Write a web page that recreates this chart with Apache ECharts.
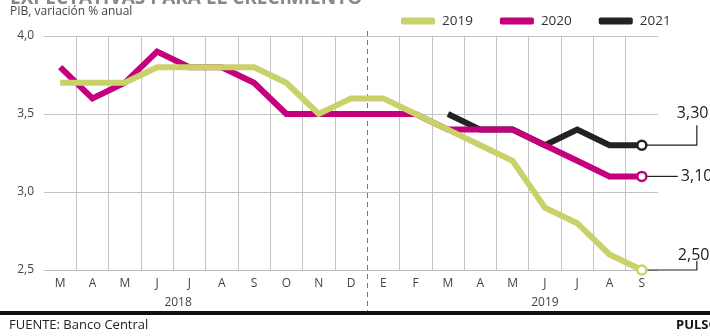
<!DOCTYPE html>
<html>
<head>
<meta charset="utf-8">
<script src="https://cdn.jsdelivr.net/npm/echarts@6/dist/echarts.min.js"></script>
<style>
  html, body { margin: 0; padding: 0; background: #fff; }
  #chart { width: 710px; height: 336px; }
</style>
</head>
<body>
<div id="chart"></div>
<script>
  // months Mar 2018 .. Sep 2019
  const categories = ['M', 'A', 'M', 'J', 'J', 'A', 'S', 'O', 'N', 'D', 'E', 'F', 'M', 'A', 'M', 'J', 'J', 'A', 'S'];
  const yearLabels = ['', '', '', '2018', '', '', '', '', '', '', '', '', '', '', '', '2019', '', '', ''];
  const values2019 = [3.7, 3.7, 3.7, 3.8, 3.8, 3.8, 3.8, 3.7, 3.5, 3.6, 3.6, 3.5, 3.4, 3.3, 3.2, 2.9, 2.8, 2.6, 2.5];
  const values2020 = [3.8, 3.6, 3.7, 3.9, 3.8, 3.8, 3.7, 3.5, 3.5, 3.5, 3.5, 3.5, 3.4, 3.4, 3.4, 3.3, 3.2, 3.1, 3.1];
  const values2021 = [null, null, null, null, null, null, null, null, null, null, null, null, 3.5, 3.4, 3.4, 3.3, 3.4, 3.3, 3.3];
  const seriesNames = ['2019', '2020', '2021'];
  const endLabels = ['2,50', '3,10', '3,30'];

  const FONT = 'Open Sans';
  const colors = { '2019': '#c9d26a', '2020': '#c4007c', '2021': '#222222' };
  const last = categories.length - 1;

  function withEndMarker(values, color) {
    return values.map((v, i) => i === last ? {
      value: v,
      symbol: 'circle',
      symbolSize: 9,
      itemStyle: { color: '#fff', borderColor: color, borderWidth: 2.5 }
    } : v);
  }

  function lineSeries(name, values) {
    return {
      name: name,
      type: 'line',
      data: withEndMarker(values, colors[name]),
      symbol: 'none',
      showSymbol: true,
      connectNulls: false,
      lineStyle: { color: colors[name], width: 6, join: 'miter' },
      itemStyle: { color: colors[name] },
      emphasis: { disabled: true },
      silent: true
    };
  }

  const chart = echarts.init(document.getElementById('chart'));

  const option = {
    animation: false,
    textStyle: { fontFamily: FONT },
    grid: { left: 44, right: 52, top: 36, bottom: 66 },
    legend: {
      data: seriesNames,
      left: 396,
      top: 9,
      itemWidth: 34,
      itemHeight: 7,
      itemGap: 27,
      icon: 'roundRect',
      textStyle: { fontFamily: FONT, fontSize: 13.5, color: '#333', padding: [0, 0, 0, 2] },
      selectedMode: false
    },
    xAxis: [
      {
        type: 'category',
        data: categories,
        boundaryGap: true,
        axisLine: { lineStyle: { color: '#bdbdbd', width: 1 } },
        axisTick: { show: false },
        axisLabel: { fontFamily: FONT, fontSize: 12, color: '#444', margin: 8 },
        splitLine: {
          show: true,
          showMinLine: false,
          showMaxLine: false,
          interval: (i) => i !== 10,
          lineStyle: { color: '#c4c4c4', width: 1 }
        }
      },
      {
        type: 'category',
        data: yearLabels,
        position: 'bottom',
        offset: 19,
        boundaryGap: true,
        axisLine: { show: false },
        axisTick: { show: false },
        splitLine: { show: false },
        axisLabel: {
          interval: 0,
          margin: 8,
          formatter: (v) => v === '2018' ? '{a|' + v + '}' : v,
          fontFamily: FONT, fontSize: 12, color: '#444',
          rich: { a: { fontFamily: FONT, fontSize: 12, color: '#444', padding: [0, 0, 0, 42] } }
        }
      }
    ],
    yAxis: {
      type: 'value',
      min: 2.5,
      max: 4.0,
      interval: 0.5,
      axisLine: { show: false },
      axisTick: { show: false },
      axisLabel: {
        fontFamily: FONT, fontSize: 12, color: '#444', margin: 10,
        formatter: (v) => v.toFixed(1).replace('.', ',')
      },
      splitLine: { lineStyle: { color: '#c4c4c4', width: 1 } }
    },
    series: [
      lineSeries('2021', values2021),
      lineSeries('2020', values2020),
      lineSeries('2019', values2019)
    ]
  };

  chart.setOption(option);

  // annotations placed from the chart's own scales
  const lastValues = { '2019': values2019[last], '2020': values2020[last], '2021': values2021[last] };
  const leaders = {
    '2021': { dx: 55, dy: -20, tx: 35, ty: -32 },
    '2020': { dx: 36, dy: 0, tx: 39, ty: 0 },
    '2019': { dx: 55, dy: -9, tx: 36, ty: -15 }
  };
  const graphics = [];
  seriesNames.forEach((name, k) => {
    const p = chart.convertToPixel({ xAxisIndex: 0, yAxisIndex: 0 }, [last, lastValues[name]]);
    const l = leaders[name];
    const pts = [[p[0] + 5, p[1]], [p[0] + l.dx, p[1]]];
    if (l.dy) pts.push([p[0] + l.dx, p[1] + l.dy]);
    graphics.push({
      type: 'polyline', silent: true, z: 1,
      shape: { points: pts },
      style: { stroke: '#222', lineWidth: 1.2, fill: null }
    });
    graphics.push({
      type: 'text', silent: true, x: p[0] + l.tx, y: p[1] + l.ty,
      style: { text: endLabels[k], fontFamily: FONT, fontSize: 16, fill: '#222', verticalAlign: 'middle', align: 'left' }
    });
  });

  const xa = chart.convertToPixel({ xAxisIndex: 0 }, 9);
  const xb = chart.convertToPixel({ xAxisIndex: 0 }, 10);
  const xMid = Math.round((xa + xb) / 2) + 0.5;
  const yTop = chart.convertToPixel({ yAxisIndex: 0 }, 4.0);

  graphics.push(
    {
      type: 'line', silent: true, z: 0,
      shape: { x1: xMid, y1: yTop - 5, x2: xMid, y2: 311 },
      style: { stroke: '#777', lineWidth: 1, lineDash: [5, 4] }
    },
    {
      // headline above the crop, only its lowest pixels show
      type: 'text', silent: true, x: 10, y: 8,
      style: { text: 'EXPECTATIVAS PARA EL CRECIMIENTO', fontFamily: FONT, fontSize: 19, fontWeight: 'bold', fill: '#888', verticalAlign: 'bottom', align: 'left' }
    },
    {
      type: 'rect', silent: true, left: 0, top: 4,
      shape: { width: 360, height: 20 },
      style: { fill: '#fff' }
    },
    {
      type: 'text', silent: true, left: 10, top: 6,
      style: { text: 'PIB, variación % anual', fontFamily: FONT, fontSize: 12, fill: '#444' }
    },
    {
      type: 'rect', silent: true, left: 0, top: 311,
      shape: { width: 710, height: 4 },
      style: { fill: '#111' }
    },
    {
      type: 'text', silent: true, left: 9, top: 319,
      style: { text: 'FUENTE: Banco Central', fontFamily: FONT, fontSize: 13, fill: '#222' }
    },
    {
      type: 'text', silent: true, left: 676, top: 319,
      style: { text: 'PULSO', fontFamily: FONT, fontSize: 13, fontWeight: 'bold', fill: '#111' }
    }
  );

  chart.setOption({ graphic: graphics });
  window.addEventListener('resize', () => { chart.resize(); });
</script>
</body>
</html>
